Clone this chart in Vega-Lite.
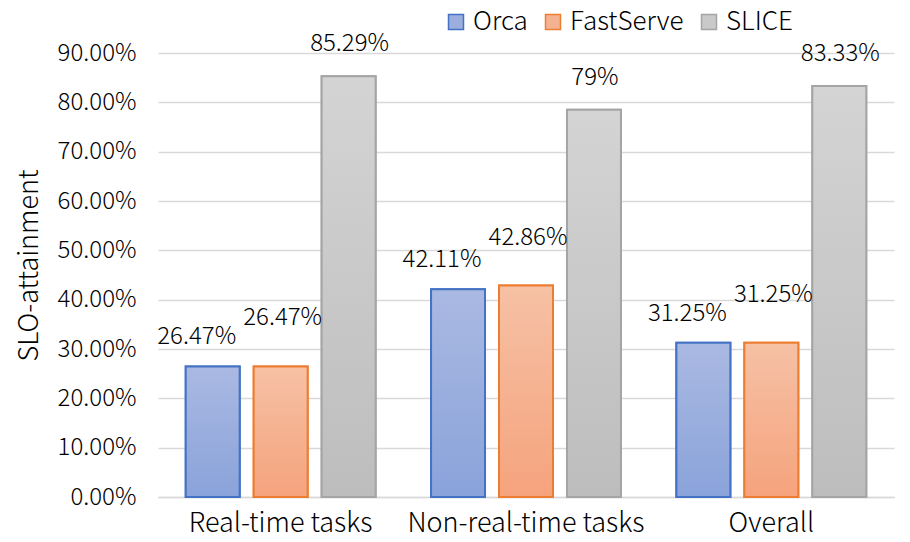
{
  "$schema": "https://vega.github.io/schema/vega-lite/v6.json",
  "autosize": "none",
  "width": 736,
  "height": 444,
  "padding": {"left": 158, "top": 53, "right": 16, "bottom": 45},
  "background": "white",
  "config": {
    "font": "Noto Sans CJK SC",
    "view": {"stroke": null}
  },
  "data": {
    "values": [
      {"task": "Real-time tasks", "series": "Orca", "value": 0.2647, "label": "26.47%"},
      {"task": "Real-time tasks", "series": "FastServe", "value": 0.2647, "label": "26.47%"},
      {"task": "Real-time tasks", "series": "SLICE", "value": 0.8529, "label": "85.29%"},
      {"task": "Non-real-time tasks", "series": "Orca", "value": 0.4211, "label": "42.11%"},
      {"task": "Non-real-time tasks", "series": "FastServe", "value": 0.4286, "label": "42.86%"},
      {"task": "Non-real-time tasks", "series": "SLICE", "value": 0.785, "label": "79%"},
      {"task": "Overall", "series": "Orca", "value": 0.3125, "label": "31.25%"},
      {"task": "Overall", "series": "FastServe", "value": 0.3125, "label": "31.25%"},
      {"task": "Overall", "series": "SLICE", "value": 0.8333, "label": "83.33%"}
    ]
  },
  "encoding": {
    "x": {
      "field": "task", "type": "nominal", "sort": null,
      "scale": {"paddingInner": 0.226, "paddingOuter": 0.113},
      "axis": {
        "title": null, "labelAngle": 0, "labelFontSize": 27, "labelFontWeight": 300, "labelColor": "#000000", "labelLimit": 0,
        "labelPadding": 13, "ticks": false, "domain": true, "domainColor": "#D9D9D9", "domainWidth": 1.5
      }
    },
    "xOffset": {
      "field": "series", "type": "nominal", "sort": ["Orca", "FastServe", "SLICE"],
      "scale": {"domain": ["Orca", "FastServe", "SLICE"], "paddingInner": 0.206, "paddingOuter": 0}
    },
    "y": {
      "field": "value", "type": "quantitative",
      "scale": {"domain": [0, 0.9], "nice": false},
      "axis": {
        "title": "SLO-attainment", "titleFontSize": 27, "titleFontWeight": 300, "titleColor": "#000000",
        "titlePadding": 14, "titleY": 212,
        "format": ".2%", "values": [0, 0.1, 0.2, 0.3, 0.4, 0.5, 0.6, 0.7, 0.8, 0.9],
        "labelFontSize": 24, "labelFontWeight": 300, "labelColor": "#000000", "labelPadding": 22,
        "ticks": false, "domain": false,
        "grid": true, "gridColor": "#D9D9D9", "gridWidth": 1.5
      }
    }
  },
  "layer": [
    {
      "mark": {"type": "bar", "strokeWidth": 2},
      "encoding": {
        "color": {
          "field": "series", "type": "nominal",
          "scale": {"domain": ["Orca", "FastServe", "SLICE"], "range": ["#9BAEDE", "#F5B291", "#C9C9C9"]},
          "legend": {
            "title": null, "orient": "none", "legendX": 285, "legendY": -44,
            "direction": "horizontal", "symbolType": "square", "symbolSize": 225,
            "labelFontSize": 26, "labelFontWeight": 300, "labelColor": "#000000", "columnPadding": 12, "labelOffset": 4,
            "symbolStrokeWidth": 1.5, "symbolOpacity": 1
          }
        },
        "stroke": {
          "field": "series", "type": "nominal",
          "scale": {"domain": ["Orca", "FastServe", "SLICE"], "range": ["#4472C4", "#ED7D31", "#A5A5A5"]}
        }
      }
    },
    {
      "transform": [{"filter": "datum.series === 'Orca'"}],
      "mark": {"type": "bar", "strokeWidth": 2, "stroke": "#4472C4",
        "fill": {"gradient": "linear", "x1": 0, "y1": 0, "x2": 0, "y2": 1, "stops": [{"offset": 0, "color": "#AAB9E2"}, {"offset": 1, "color": "#8AA3DA"}]}}
    },
    {
      "transform": [{"filter": "datum.series === 'FastServe'"}],
      "mark": {"type": "bar", "strokeWidth": 2, "stroke": "#ED7D31",
        "fill": {"gradient": "linear", "x1": 0, "y1": 0, "x2": 0, "y2": 1, "stops": [{"offset": 0, "color": "#F6C1A5"}, {"offset": 1, "color": "#F5A37D"}]}}
    },
    {
      "transform": [{"filter": "datum.series === 'SLICE'"}],
      "mark": {"type": "bar", "strokeWidth": 2, "stroke": "#A5A5A5",
        "fill": {"gradient": "linear", "x1": 0, "y1": 0, "x2": 0, "y2": 1, "stops": [{"offset": 0, "color": "#D4D4D4"}, {"offset": 1, "color": "#BDBDBD"}]}}
    },
    {
      "transform": [{"filter": "datum.series === 'Orca'"}],
      "mark": {"type": "text", "fontSize": 24, "fontWeight": 300, "dy": -29, "dx": -16, "baseline": "middle", "color": "#000000"},
      "encoding": {"text": {"field": "label"}}
    },
    {
      "transform": [{"filter": "datum.series === 'FastServe'"}],
      "mark": {"type": "text", "fontSize": 24, "fontWeight": 300, "dy": -48, "dx": 2, "baseline": "middle", "color": "#000000"},
      "encoding": {"text": {"field": "label"}}
    },
    {
      "transform": [{"filter": "datum.series === 'SLICE'"}],
      "mark": {"type": "text", "fontSize": 24, "fontWeight": 300, "dy": -32, "dx": 1, "baseline": "middle", "color": "#000000"},
      "encoding": {"text": {"field": "label"}}
    }
  ]
}
